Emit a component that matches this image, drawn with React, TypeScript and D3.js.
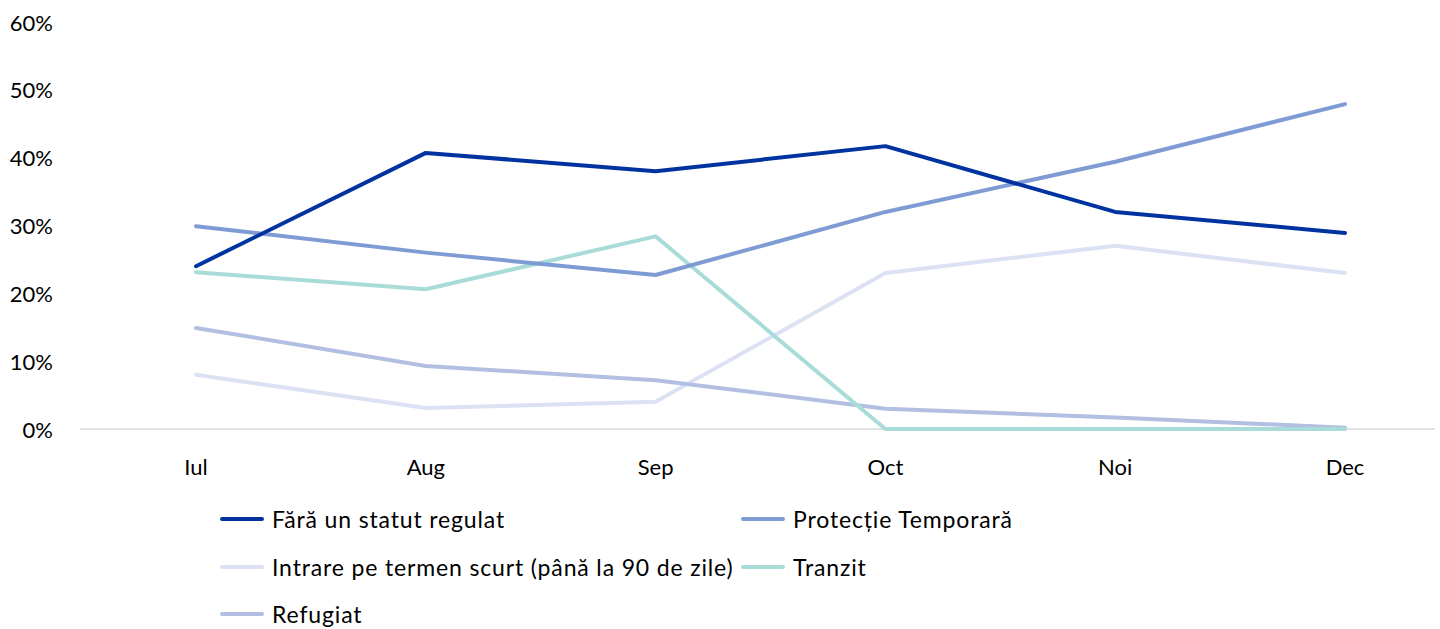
import React from 'react';
import * as d3 from 'd3';

const width = 1440;
const height = 629;
const font = 'Lato, "Noto Sans", sans-serif';

const months = ['Iul', 'Aug', 'Sep', 'Oct', 'Noi', 'Dec'];
const yTicks = [0, 10, 20, 30, 40, 50, 60];

const faraStatut = [24, 40.7, 38, 41.7, 32, 28.9];
const protectie = [29.9, 26, 22.7, 32, 39.4, 47.9];
const intrare = [8, 3.1, 4, 23, 27, 23];
const tranzit = [23.1, 20.6, 28.4, 0, 0, 0];
const refugiat = [14.9, 9.3, 7.2, 3, 1.7, 0.2];

const series = [
    { name: 'Fără un statut regulat', values: faraStatut, color: '#0033a0' },
    { name: 'Protecție Temporară', values: protectie, color: '#7f9bd4' },
    { name: 'Intrare pe termen scurt (până la 90 de zile)', values: intrare, color: '#dce2f3' },
    { name: 'Tranzit', values: tranzit, color: '#a9dcd8' },
    { name: 'Refugiat', values: refugiat, color: '#b2bfe3' },
];

// draw order: light ones first so dark lines sit on top
const drawOrder = [2, 4, 3, 1, 0];

const xScale = d3.scalePoint<string>().domain(months).range([196, 1345]);
const yScale = d3.scaleLinear().domain([0, 60]).range([429, 22]);

const line = d3
    .line<number>()
    .x((_, i) => xScale(months[i]) as number)
    .y(d => yScale(d));

const legendPos = [
    { x: 222, y: 519 },
    { x: 743, y: 519 },
    { x: 222, y: 567 },
    { x: 743, y: 567 },
    { x: 222, y: 614 },
];

export default function App() {
    return (
        <svg width={width} height={height} style={{ position: 'absolute', left: 0, top: 0, fontFamily: font }}>
            <rect width={width} height={height} fill="#fff" />

            {yTicks.map(t => (
                <text key={t} x={53} y={yScale(t)} textAnchor="end" dominantBaseline="central" fontSize={22} fill="#000">
                    {t}%
                </text>
            ))}

            <line x1={80} x2={1435} y1={yScale(0)} y2={yScale(0)} stroke="#d9d9d9" strokeWidth={1.5} />

            {months.map(m => (
                <text key={m} x={xScale(m)} y={466} textAnchor="middle" dominantBaseline="central" fontSize={22} fill="#000">
                    {m}
                </text>
            ))}

            {drawOrder.map(i => (
                <path
                    key={series[i].name}
                    d={line(series[i].values) || ''}
                    fill="none"
                    stroke={series[i].color}
                    strokeWidth={4}
                    strokeLinecap="round"
                    strokeLinejoin="round"
                />
            ))}

            {series.map((s, i) => {
                const p = legendPos[i];
                return (
                    <g key={s.name} transform={`translate(${p.x}, ${p.y})`}>
                        <line x1={0} x2={40} y1={0} y2={0} stroke={s.color} strokeWidth={4} strokeLinecap="round" />
                        <text x={50} y={0} dominantBaseline="central" fontSize={23} letterSpacing={0.85} fill="#000">
                            {s.name}
                        </text>
                    </g>
                );
            })}
        </svg>
    );
}
